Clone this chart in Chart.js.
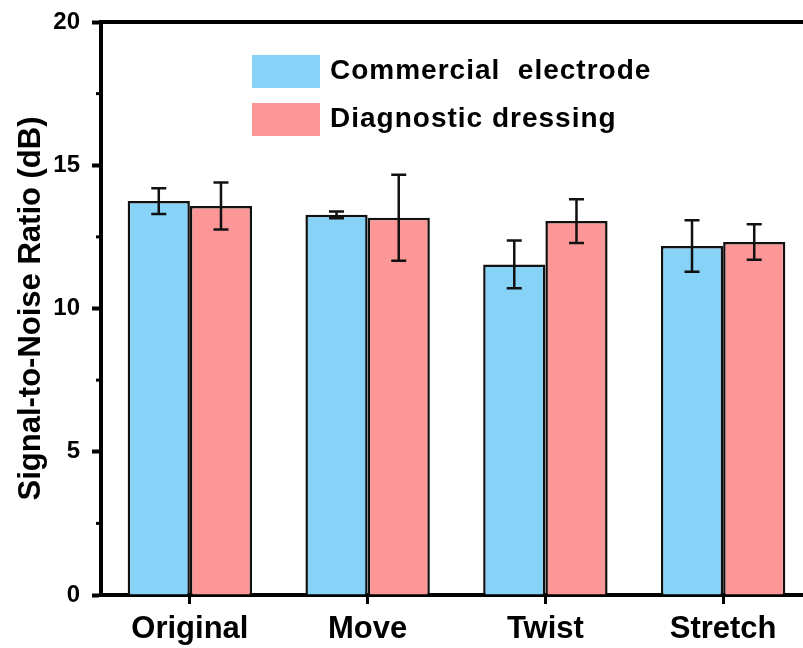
<!DOCTYPE html>
<html>
<head>
<meta charset="utf-8">
<title>Signal-to-Noise Ratio</title>
<script src="https://cdn.jsdelivr.net/npm/chart.js@4.4.1/dist/chart.umd.min.js"></script>
<style>
  html, body { margin: 0; padding: 0; background: #fff; overflow: hidden; }
  #wrap { position: relative; width: 812px; height: 648px; }
</style>
</head>
<body>
<div id="wrap"><canvas id="snrChart"></canvas></div>
<script>
const categories = ['Original', 'Move', 'Twist', 'Stretch'];
const seriesNames = ['Commercial  electrode', 'Diagnostic dressing'];
const commercialMean = [13.75, 13.27, 11.54, 12.18];
const commercialErr = [0.45, 0.12, 0.83, 0.9];
const dressingMean = [13.58, 13.17, 13.05, 12.32];
const dressingErr = [0.82, 1.5, 0.76, 0.62];
const yTicks = [0, 5, 10, 15, 20];
const yMinorTicks = [2.5, 7.5, 12.5, 17.5];

const blue = '#87d3f8';
const pink = '#fd9797';
const ink = '#000';

// error bars on top of each bar
const errorBars = {
    id: 'errorBars',
    afterDatasetsDraw(chart) {
        const ctx = chart.ctx;
        const yScale = chart.scales.y;
        ctx.save();
        ctx.strokeStyle = '#111';
        ctx.lineWidth = 2.5;
        chart.data.datasets.forEach((ds, i) => {
            chart.getDatasetMeta(i).data.forEach((bar, j) => {
                const hi = yScale.getPixelForValue(ds.data[j] + ds.errors[j]);
                const lo = yScale.getPixelForValue(ds.data[j] - ds.errors[j]);
                const x = bar.x;
                ctx.beginPath();
                ctx.moveTo(x, hi); ctx.lineTo(x, lo);
                ctx.moveTo(x - 7.5, hi); ctx.lineTo(x + 7.5, hi);
                ctx.moveTo(x - 7.5, lo); ctx.lineTo(x + 7.5, lo);
                ctx.stroke();
            });
        });
        ctx.restore();
    }
};

// frame, minor ticks and the legend block
const decorations = {
    id: 'decorations',
    afterDraw(chart) {
        const ctx = chart.ctx;
        const area = chart.chartArea;
        const yScale = chart.scales.y;
        ctx.save();
        ctx.strokeStyle = ink;
        ctx.lineWidth = 4;
        ctx.beginPath();
        ctx.moveTo(area.left, area.top);
        ctx.lineTo(area.right, area.top);
        ctx.lineTo(area.right, area.bottom);
        ctx.stroke();

        ctx.lineWidth = 3;
        yMinorTicks.forEach(v => {
            const y = yScale.getPixelForValue(v);
            ctx.beginPath();
            ctx.moveTo(area.left - 5, y);
            ctx.lineTo(area.left, y);
            ctx.stroke();
        });

        // legend
        ctx.font = "bold 28px 'Liberation Sans', Arial, sans-serif";
        ctx.textBaseline = 'middle';
        ctx.textAlign = 'left';
        if ('letterSpacing' in ctx) ctx.letterSpacing = '1px';
        chart.data.datasets.forEach((ds, i) => {
            const top = 55 + i * 48;
            ctx.fillStyle = ds.backgroundColor;
            ctx.fillRect(252, top, 68, 33);
            ctx.fillStyle = ink;
            ctx.fillText(ds.label, 330, top + 16);
        });
        ctx.restore();
    }
};

const ctxSnr = document.getElementById('snrChart').getContext('2d');
new Chart(ctxSnr, {
    type: 'bar',
    data: {
        labels: categories,
        datasets: [{
            label: seriesNames[0],
            data: commercialMean,
            errors: commercialErr,
            backgroundColor: blue,
            borderColor: '#111',
            borderWidth: 2.5
        }, {
            label: seriesNames[1],
            data: dressingMean,
            errors: dressingErr,
            backgroundColor: pink,
            borderColor: '#111',
            borderWidth: 2.5
        }]
    },
    plugins: [errorBars, decorations],
    options: {
        responsive: true,
        maintainAspectRatio: false,
        animation: false,
        layout: { padding: { top: 22, left: 0, right: 0, bottom: 0 } },
        datasets: { bar: { categoryPercentage: 0.7, barPercentage: 1.0 } },
        plugins: { legend: { display: false }, tooltip: { enabled: false } },
        scales: {
            x: {
                z: 1,
                afterFit(scale) { scale.height = 53; },
                grid: { drawOnChartArea: false, offset: false, tickLength: 9, tickWidth: 3, tickColor: ink },
                border: { color: ink, width: 4 },
                ticks: {
                    color: ink,
                    padding: 7,
                    maxRotation: 0,
                    font: { family: "'Liberation Sans', Arial, sans-serif", size: 31, weight: 'bold' }
                }
            },
            y: {
                z: 1,
                min: 0,
                max: 20,
                afterFit(scale) {
                    scale.width = 101;
                    scale.paddingTop = 4;
                    scale.paddingBottom = 4;
                },
                afterBuildTicks(scale) { scale.ticks = yTicks.map(v => ({ value: v })); },
                grid: { drawOnChartArea: false, tickLength: 9, tickWidth: 4, tickColor: ink },
                border: { color: ink, width: 4 },
                ticks: {
                    color: ink,
                    padding: 12,
                    font: { family: "'Liberation Sans', Arial, sans-serif", size: 24, weight: 'bold' }
                },
                title: {
                    display: true,
                    text: 'Signal-to-Noise Ratio (dB)',
                    color: ink,
                    padding: { top: 13, bottom: 0 },
                    font: { family: "'Liberation Sans', Arial, sans-serif", size: 31, weight: 'bold' }
                }
            }
        }
    }
});
</script>
</body>
</html>
